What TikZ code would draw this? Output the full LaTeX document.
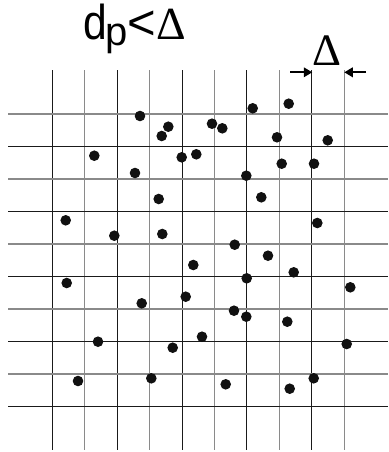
\documentclass[tikz,border=0pt]{standalone}
\usepackage{fontspec}
\setmainfont{Liberation Sans}
\newfontfamily\serifdelta{Liberation Serif}
\usetikzlibrary{arrows.meta}
\definecolor{gridgray}{HTML}{8A8A8A}
\definecolor{gridblack}{HTML}{1A1A1A}
\definecolor{dotcol}{HTML}{111111}
\tikzset{
  vblack/.style={draw=gridblack, line width=1.1pt},
  vgray/.style={draw=gridgray, line width=1.4pt},
  dot/.style={fill=dotcol},
  lbl/.style={inner sep=0pt, outer sep=0pt, anchor=base west, text=black},
  dimarrow/.style={line width=2pt, -{Triangle[length=8.5pt,width=9.5pt]}}
}
\begin{document}
\begin{tikzpicture}[x=1pt,y=-1pt]
\useasboundingbox (0,0) rectangle (388,452);
% vertical lines
\foreach \i in {0,...,9}{
  \pgfmathsetmacro{\xx}{52.3+32.44*\i}
  \ifodd\i
    \draw[vgray] (\xx,70) -- (\xx,450);
  \else
    \draw[vblack] (\xx,70) -- (\xx,450);
  \fi
}
% horizontal lines
\foreach \j in {0,...,9}{
  \pgfmathsetmacro{\yy}{114+32.48*\j}
  \ifodd\j
    \draw[vblack] (8.3,\yy) -- (388,\yy);
  \else
    \draw[vgray] (8.3,\yy) -- (388,\yy);
  \fi
}
% dots
\foreach \px/\py in {
 140/116, 168.3/126.7, 161.7/136, 212/123.7, 222.3/128.3, 252.7/108.3,
 288.7/103.7, 277/137.3, 327.7/140.3,
 94.3/155.7, 181.7/157.3, 196.3/154.3, 135/173, 246.3/175.7, 281.7/163.7,
 314/163.7, 158.7/199, 261.3/197.3, 65.7/220.3, 114.3/235.7, 162.3/234,
 317.3/223, 234.7/244.7, 268/255.7, 193.3/265, 66.7/283, 246.7/278.3,
 293.7/272.3, 350.3/287.3, 185.7/296.7, 141.7/303.3, 234/310.7,
 246.3/316.7, 287.3/321.7, 98/341.7, 202/336.7, 172.7/347.7, 346.7/344,
 78/381, 151.3/378.3, 225.7/384.3, 289.7/388.7, 313.7/378.3}
  \fill[dot] (\px,\py) circle (5.3);
% title
\node[lbl, font=\fontsize{49}{49}\selectfont] (title) at (83,40)
  {\makebox[0pt][l]{\scalebox{0.87}[1]{d}}\hspace{22.5pt}%
   \makebox[0pt][l]{\raisebox{-6pt}{\fontsize{40}{40}\selectfont p}}\hspace{22pt}%
   \makebox[0pt][l]{<}\hspace{28.5pt}%
   {\serifdelta\fontsize{46}{46}\selectfont Δ}};
% Delta with dimension arrows
\node[lbl, font=\fontsize{45}{45}\selectfont\serifdelta] (D2) at (312.5,66) {Δ};
\coordinate (la) at (290,72.3);
\coordinate (lb) at (312.3,72.3);
\coordinate (ra) at (366,72.3);
\coordinate (rb) at (344.3,72.3);
\draw[dimarrow] (la) -- (lb);
\draw[dimarrow] (ra) -- (rb);
\end{tikzpicture}
\end{document}
